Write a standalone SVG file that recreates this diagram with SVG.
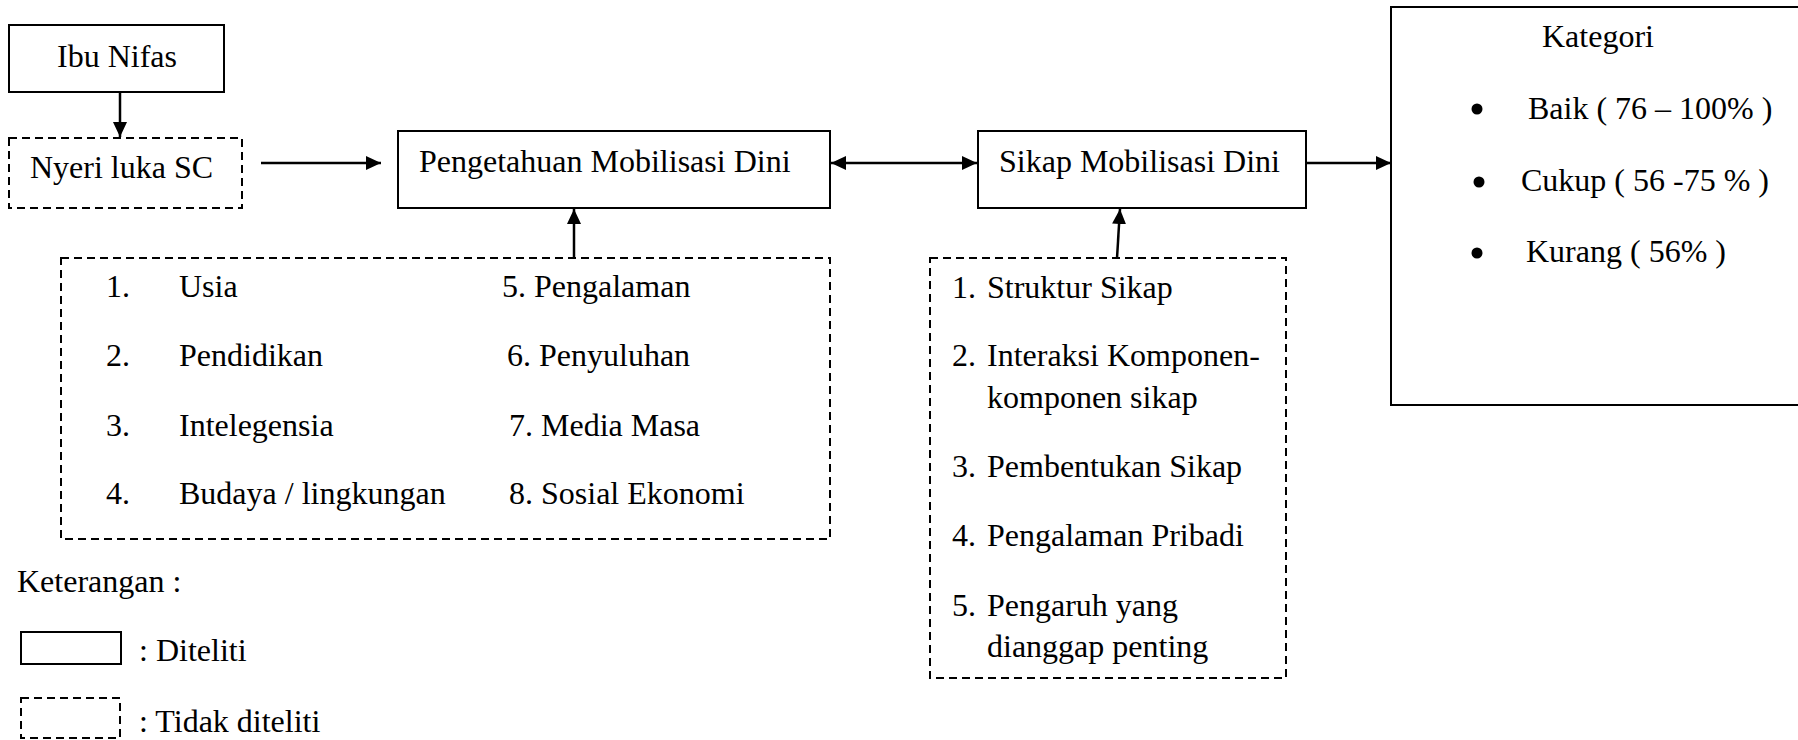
<svg xmlns="http://www.w3.org/2000/svg" width="1798" height="740" viewBox="0 0 1798 740">
<style>
text{font-family:"Liberation Serif","Times New Roman",serif;font-size:32px;fill:#000}
.solid{fill:#fff;stroke:#000;stroke-width:2}
.dash{fill:#fff;stroke:#000;stroke-width:2;stroke-dasharray:8 5}
.conn{fill:none;stroke:#000;stroke-width:2.5}
.bullet{fill:#000}
</style>
<defs>
<marker id="ah" markerUnits="userSpaceOnUse" markerWidth="16" markerHeight="14" refX="15" refY="7" orient="auto-start-reverse">
<path d="M0,0 L15,7 L0,14 z" fill="#000"/>
</marker>
</defs>
<rect width="1798" height="740" fill="#fff"/>
<g id="connectors">
<line class="conn" x1="120" y1="92" x2="120" y2="137" marker-end="url(#ah)"/>
<line class="conn" x1="261" y1="163" x2="381" y2="163" marker-end="url(#ah)"/>
<line class="conn" x1="831" y1="163" x2="977" y2="163" marker-start="url(#ah)" marker-end="url(#ah)"/>
<line class="conn" x1="1306" y1="163" x2="1391" y2="163" marker-end="url(#ah)"/>
<line class="conn" x1="574" y1="258" x2="574" y2="209" marker-end="url(#ah)"/>
<line class="conn" x1="1117" y1="258" x2="1120" y2="209" marker-end="url(#ah)"/>
</g>
<g id="ibu-nifas">
<rect class="solid" x="9" y="25" width="215" height="67"/>
<text x="117" y="67" text-anchor="middle">Ibu Nifas</text>
</g>
<g id="nyeri">
<rect class="dash" x="9" y="138" width="233" height="70"/>
<text x="30" y="178">Nyeri luka SC</text>
</g>
<g id="pengetahuan">
<rect class="solid" x="398" y="131" width="432" height="77"/>
<text x="419" y="172">Pengetahuan Mobilisasi Dini</text>
</g>
<g id="sikap">
<rect class="solid" x="978" y="131" width="328" height="77"/>
<text x="999" y="172">Sikap Mobilisasi Dini</text>
</g>
<g id="kategori">
<rect class="solid" x="1391" y="7" width="420" height="398"/>
<text x="1542" y="47">Kategori</text>
<circle class="bullet" cx="1477" cy="109" r="5.5"/>
<text x="1528" y="119">Baik ( 76 – 100% )</text>
<circle class="bullet" cx="1479" cy="182" r="5.5"/>
<text x="1521" y="191">Cukup ( 56 -75 % )</text>
<circle class="bullet" cx="1477" cy="253" r="5.5"/>
<text x="1526" y="262">Kurang ( 56% )</text>
</g>
<g id="faktor-pengetahuan">
<rect class="dash" x="61" y="258" width="769" height="281"/>
<text x="106" y="297">1.</text><text x="179" y="297">Usia</text>
<text x="106" y="366">2.</text><text x="179" y="366">Pendidikan</text>
<text x="106" y="436">3.</text><text x="179" y="436">Intelegensia</text>
<text x="106" y="504">4.</text><text x="179" y="504">Budaya / lingkungan</text>
<text x="502" y="297">5. Pengalaman</text>
<text x="507" y="366">6. Penyuluhan</text>
<text x="509" y="436">7. Media Masa</text>
<text x="509" y="504">8. Sosial Ekonomi</text>
</g>
<g id="faktor-sikap">
<rect class="dash" x="930" y="258" width="356" height="420"/>
<text x="952" y="298">1.</text><text x="987" y="298">Struktur Sikap</text>
<text x="952" y="366">2.</text><text x="987" y="366">Interaksi Komponen-</text>
<text x="987" y="408">komponen sikap</text>
<text x="952" y="477">3.</text><text x="987" y="477">Pembentukan Sikap</text>
<text x="952" y="546">4.</text><text x="987" y="546">Pengalaman Pribadi</text>
<text x="952" y="616">5.</text><text x="987" y="616">Pengaruh yang</text>
<text x="987" y="657">dianggap penting</text>
</g>
<g id="legend">
<text x="17" y="592">Keterangan :</text>
<rect class="solid" x="21" y="632" width="100" height="32"/>
<text x="139" y="661">: Diteliti</text>
<rect class="dash" x="21" y="698" width="99" height="40"/>
<text x="139" y="732">: Tidak diteliti</text>
</g>
</svg>
